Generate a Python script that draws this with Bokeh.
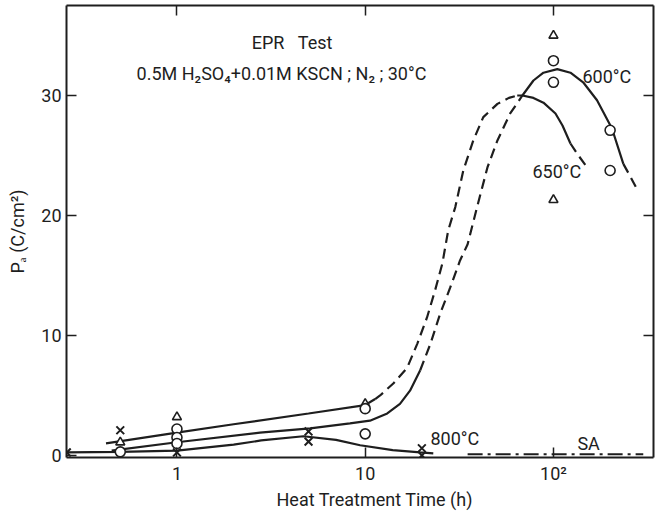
from bokeh.plotting import figure
from bokeh.models import FixedTicker, LogAxis, LinearAxis, Range1d, Title
from bokeh.core.properties import value
from bokeh.embed import file_html
from bokeh.resources import INLINE

# ---------------- data ----------------
# axis ticks
x_ticks = [1, 10, 100]
x_tick_labels = ["1", "10", "10²"]
y_ticks = [0, 10, 20, 30]
y_tick_labels = ["0", "10", "20", "30"]

# 650 °C curve (upper at short times)
c650_lo_t = [0.42, 1, 2, 5, 10, 11.3]
c650_lo_y = [1.0, 1.9, 2.6, 3.5, 4.2, 4.7]
c650_rise_t = [11.3, 12.0, 14.1, 16.7, 18.9, 21.3, 23.5, 25.7, 27.6, 30.1, 33.2, 37.5, 42.4, 50.4, 58.0, 64.2]
c650_rise_y = [4.7, 5.0, 6.0, 7.3, 9.3, 11.5, 13.75, 16.0, 18.75, 20.7, 23.75, 26.25, 28.2, 29.3, 29.8, 30.0]
c650_fall_t = [64.2, 68.4, 78.3, 88.5, 102.5, 111.7, 123.1]
c650_fall_y = [30.0, 30.0, 29.8, 29.4, 28.5, 27.5, 26.0]
c650_end_t = [123.1, 135.7, 148.0]
c650_end_y = [26.0, 25.0, 24.2]

# 600 °C curve (middle at short times)
c600_lo_t = [0.45, 1, 2.76, 5.1, 8.3, 10.6, 13.1, 15.3, 17.3, 19.6]
c600_lo_y = [0.4, 1.1, 1.9, 2.25, 2.67, 2.9, 3.5, 4.3, 5.4, 7.1]
c600_rise_t = [19.6, 22.2, 25.0, 28.3, 31.9, 35.0, 39.3, 44.6, 50.4, 58.9, 68.4]
c600_rise_y = [7.1, 9.3, 11.8, 14.0, 16.25, 17.6, 20.7, 24.0, 26.25, 28.5, 30.0]
c600_hi_t = [68.4, 78.3, 88.5, 104.8, 123.1, 143.8, 170.4, 204.6, 235.1]
c600_hi_y = [30.0, 31.25, 31.9, 32.2, 31.9, 31.1, 29.6, 27.25, 24.3]
c600_end_t = [235.1, 257.0, 280.0]
c600_end_y = [24.3, 23.2, 22.1]

# 800 °C curve
c800_t = [0.26, 0.5, 1, 2, 2.8, 4.7, 7, 9.4, 14, 19.6, 23]
c800_y = [0.25, 0.3, 0.4, 0.9, 1.25, 1.6, 1.3, 0.85, 0.45, 0.25, 0.17]

# solution annealed (SA)
sa_t = [35, 300]
sa_y = [0.1, 0.1]

# measured points
cross_t = [0.26, 0.5, 1, 5, 5, 20, 20]
cross_y = [0.25, 2.1, 0.25, 2.0, 1.15, 0.6, 0.0]
tri_t = [0.5, 1, 10, 100, 100]
tri_y = [1.1, 3.2, 4.3, 35.0, 21.3]
circ_t = [0.5, 1, 1, 1, 10, 10, 100, 100, 200, 200]
circ_y = [0.3, 2.2, 1.5, 1.0, 3.9, 1.8, 32.9, 31.1, 27.1, 23.75]

# ---------------- figure ----------------
FONT = "Roboto"
INK = "#1e1e1e"

p = figure(width=659, height=512, x_axis_type="log",
           x_range=Range1d(0.259, 340), y_range=Range1d(-0.17, 37.5),
           output_backend="svg", toolbar_location=None,
           min_border_left=66, min_border_right=6, min_border_top=5, min_border_bottom=55)
p.outline_line_color = None
p.grid.visible = False
p.background_fill_color = "white"
p.border_fill_color = "white"

# bottom axis
xa = p.xaxis[0]
xa.ticker = FixedTicker(ticks=x_ticks)
xa.major_label_overrides = {t: l for t, l in zip(x_ticks, x_tick_labels)}
# left axis
ya = p.yaxis[0]
ya.ticker = FixedTicker(ticks=y_ticks)
ya.major_label_overrides = {t: l for t, l in zip(y_ticks, y_tick_labels)}
ya.axis_label = "Pₐ (C/cm²)"

top = LogAxis(ticker=FixedTicker(ticks=x_ticks))
right = LinearAxis(ticker=FixedTicker(ticks=y_ticks[1:]))
for ax in (top, right):
    ax.major_label_text_font_size = "1px"
    ax.major_label_text_color = None
    ax.major_label_standoff = 0
p.add_layout(top, "above")
p.add_layout(right, "right")

for ax in (xa, ya, top, right):
    ax.axis_line_color = INK
    ax.axis_line_width = 2
    ax.major_tick_line_color = INK
    ax.major_tick_line_width = 1.5
    ax.major_tick_in = 10
    ax.major_tick_out = 0
    ax.minor_tick_line_color = None
for ax in (xa, ya):
    ax.major_label_text_font = FONT
    ax.major_label_text_font_size = "18px"
    ax.major_label_text_color = INK
    ax.major_label_standoff = 5
    ax.axis_label_text_font = FONT
    ax.axis_label_text_font_size = "18px"
    ax.axis_label_text_font_style = "normal"
    ax.axis_label_text_color = INK
ya.axis_label_standoff = 10

# x-axis title (sits slightly right of centre in the original)
p.add_layout(Title(text="Heat Treatment Time (h)", align="left", offset=210,
                   text_font=FONT, text_font_size="18px", text_font_style="normal",
                   text_color=INK, standoff=0), "below")

LW = 2.2
DASH = "10 6"
p.line(c650_lo_t, c650_lo_y, line_color=INK, line_width=LW)
p.line(c650_rise_t, c650_rise_y, line_color=INK, line_width=LW, line_dash=DASH)
p.line(c650_fall_t, c650_fall_y, line_color=INK, line_width=LW)
p.line(c650_end_t, c650_end_y, line_color=INK, line_width=LW, line_dash=DASH)

p.line(c600_lo_t, c600_lo_y, line_color=INK, line_width=LW)
p.line(c600_rise_t, c600_rise_y, line_color=INK, line_width=LW, line_dash=DASH)
p.line(c600_hi_t, c600_hi_y, line_color=INK, line_width=LW)
p.line(c600_end_t, c600_end_y, line_color=INK, line_width=LW, line_dash=DASH)

p.line(c800_t, c800_y, line_color=INK, line_width=LW)
p.line(sa_t, sa_y, line_color=INK, line_width=LW, line_dash="15 5 3 5")

p.scatter(cross_t, cross_y, marker="x", size=11, line_color=INK, line_width=2)
p.scatter(tri_t, tri_y, marker="triangle", size=9, line_color=INK, line_width=1.6,
          fill_color="white")
p.scatter(circ_t, circ_y, marker="circle", size=10, line_color=INK, line_width=1.6,
          fill_color="white")

# annotations
def txt(x, y, s, align="left"):
    p.text(x=[x], y=[y], text=[s], text_font=value(FONT), text_font_size=value("18px"),
           text_color=INK, text_align=align, text_baseline="middle")

txt(4.09, 34.4, "EPR\u00a0\u00a0\u00a0Test", "center")
txt(0.61, 31.8, "0.5M  H₂SO₄+0.01M KSCN ; N₂ ; 30°C")
txt(142.6, 31.6, "600°C")
txt(77.3, 23.7, "650°C")
txt(22.2, 1.4, "800°C")
txt(134, 1.0, "SA")

open("out.html", "w").write(file_html(p, INLINE))
